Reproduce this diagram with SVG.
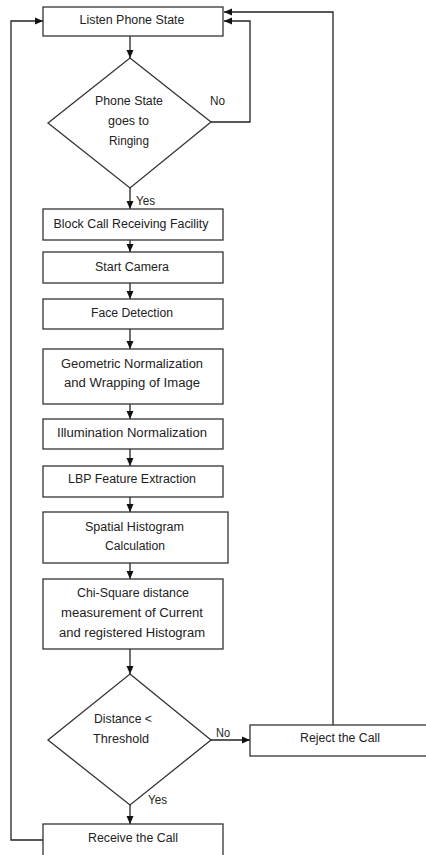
<svg xmlns="http://www.w3.org/2000/svg" width="426" height="855" viewBox="0 0 426 855">
<defs>
<style>
.box{fill:#fff;stroke:#333;stroke-width:1.3}
.t{font-family:"Liberation Sans",Arial,sans-serif;font-size:12px;fill:#222;text-anchor:middle}
.tl{font-family:"Liberation Sans",Arial,sans-serif;font-size:12px;fill:#222}
.c{fill:none;stroke:#222;stroke-width:1.3}
</style>
<marker id="ah" markerWidth="8" markerHeight="8" refX="8" refY="4" orient="auto" markerUnits="userSpaceOnUse">
<path d="M0,0.5 L8,4 L0,7.5 z" fill="#111"/>
</marker>
</defs>
<rect width="426" height="855" fill="#fff"/>
<g id="connectors">
<line class="c" x1="130" y1="36" x2="130" y2="58" marker-end="url(#ah)"/>
<line class="c" x1="130" y1="188" x2="130" y2="209" marker-end="url(#ah)"/>
<line class="c" x1="130" y1="240" x2="130" y2="252" marker-end="url(#ah)"/>
<line class="c" x1="130" y1="283" x2="130" y2="299" marker-end="url(#ah)"/>
<line class="c" x1="130" y1="329" x2="130" y2="349" marker-end="url(#ah)"/>
<line class="c" x1="130" y1="404" x2="130" y2="419" marker-end="url(#ah)"/>
<line class="c" x1="130" y1="449" x2="130" y2="466" marker-end="url(#ah)"/>
<line class="c" x1="130" y1="497" x2="130" y2="512" marker-end="url(#ah)"/>
<line class="c" x1="130" y1="563" x2="130" y2="579" marker-end="url(#ah)"/>
<line class="c" x1="130" y1="649" x2="130" y2="674" marker-end="url(#ah)"/>
<line class="c" x1="130" y1="805" x2="130" y2="824" marker-end="url(#ah)"/>
<line class="c" x1="211" y1="740" x2="250" y2="740" marker-end="url(#ah)"/>
<polyline class="c" points="211,122 250,122 250,21 224,21" marker-end="url(#ah)"/>
<polyline class="c" points="333,725 333,12 224,12" marker-end="url(#ah)"/>
<polyline class="c" points="43,840 11,840 11,21 43,21" marker-end="url(#ah)"/>
<text class="tl" x="210" y="105" textLength="15" lengthAdjust="spacingAndGlyphs">No</text>
<text class="tl" x="136" y="205" textLength="19" lengthAdjust="spacingAndGlyphs">Yes</text>
<text class="tl" x="216" y="737" textLength="14" lengthAdjust="spacingAndGlyphs">No</text>
<text class="tl" x="148" y="804" textLength="19" lengthAdjust="spacingAndGlyphs">Yes</text>
</g>
<g id="listen"><rect class="box" x="43" y="7" width="180" height="29"/><text class="t" x="132" y="24" textLength="105" lengthAdjust="spacingAndGlyphs">Listen Phone State</text></g>
<g id="ringing"><polygon class="box" points="130,58 211,122 130,188 48,123"/>
<text class="t" x="129" y="105" textLength="68" lengthAdjust="spacingAndGlyphs">Phone State</text><text class="t" x="128.5" y="125" textLength="41" lengthAdjust="spacingAndGlyphs">goes to</text><text class="t" x="129" y="145" textLength="40" lengthAdjust="spacingAndGlyphs">Ringing</text></g>
<g id="block"><rect class="box" x="43" y="209" width="180" height="31"/><text class="t" x="131" y="228" textLength="155" lengthAdjust="spacingAndGlyphs">Block Call Receiving Facility</text></g>
<g id="camera"><rect class="box" x="43" y="252" width="180" height="31"/><text class="t" x="132" y="271" textLength="74" lengthAdjust="spacingAndGlyphs">Start Camera</text></g>
<g id="face"><rect class="box" x="43" y="299" width="180" height="30"/><text class="t" x="132" y="317" textLength="82" lengthAdjust="spacingAndGlyphs">Face Detection</text></g>
<g id="geometric"><rect class="box" x="43" y="349" width="180" height="55"/><text class="t" x="132" y="368" textLength="142" lengthAdjust="spacingAndGlyphs">Geometric Normalization</text><text class="t" x="132" y="387" textLength="136" lengthAdjust="spacingAndGlyphs">and Wrapping of Image</text></g>
<g id="illumination"><rect class="box" x="43" y="419" width="180" height="30"/><text class="t" x="132" y="437" textLength="150" lengthAdjust="spacingAndGlyphs">Illumination Normalization</text></g>
<g id="lbp"><rect class="box" x="43" y="466" width="180" height="31"/><text class="t" x="132" y="483" textLength="128" lengthAdjust="spacingAndGlyphs">LBP Feature Extraction</text></g>
<g id="spatial"><rect class="box" x="43" y="512" width="185" height="51"/><text class="t" x="134.5" y="531" textLength="99" lengthAdjust="spacingAndGlyphs">Spatial Histogram</text><text class="t" x="135" y="550" textLength="60" lengthAdjust="spacingAndGlyphs">Calculation</text></g>
<g id="chisquare"><rect class="box" x="43" y="579" width="180" height="70"/><text class="t" x="133" y="597" textLength="112" lengthAdjust="spacingAndGlyphs">Chi-Square distance</text><text class="t" x="132" y="617" textLength="142" lengthAdjust="spacingAndGlyphs">measurement of Current</text><text class="t" x="132" y="637" textLength="146" lengthAdjust="spacingAndGlyphs">and registered Histogram</text></g>
<g id="threshold"><polygon class="box" points="130,674 211,740 130,805 48,740"/><text class="tl" x="94" y="723" textLength="58" lengthAdjust="spacingAndGlyphs">Distance &lt;</text><text class="tl" x="93" y="743" textLength="56" lengthAdjust="spacingAndGlyphs">Threshold</text></g>
<g id="reject"><rect class="box" x="250" y="725" width="180" height="31"/><text class="t" x="340" y="742" textLength="80" lengthAdjust="spacingAndGlyphs">Reject the Call</text></g>
<g id="receive"><rect class="box" x="43" y="824" width="180" height="40"/><text class="t" x="133" y="842" textLength="90" lengthAdjust="spacingAndGlyphs">Receive the Call</text></g>
</svg>
